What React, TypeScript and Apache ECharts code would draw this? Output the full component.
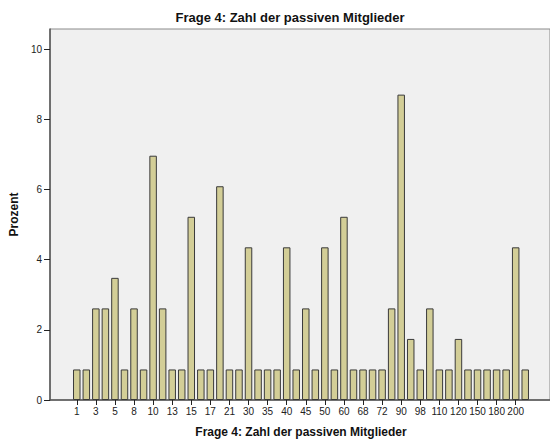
import React, { useEffect, useRef } from "react";
import * as echarts from "echarts";

const categories = [
  "1", "2", "3", "4", "5", "6", "8", "9", "10", "12", "13", "14", "15", "16", "17", "20",
  "21", "25", "30", "32", "35", "37", "40", "42", "45", "48", "50", "55", "60", "65", "68", "70",
  "72", "80", "90", "95", "98", "100", "110", "115", "120", "130", "150", "160", "180", "190", "200", "250",
];

const percentValues = [
  0.87, 0.87, 2.61, 2.61, 3.48, 0.87, 2.61, 0.87, 6.96, 2.61, 0.87, 0.87, 5.22, 0.87, 0.87, 6.09,
  0.87, 0.87, 4.35, 0.87, 0.87, 0.87, 4.35, 0.87, 2.61, 0.87, 4.35, 0.87, 5.22, 0.87, 0.87, 0.87,
  0.87, 2.61, 8.70, 1.74, 0.87, 2.61, 0.87, 0.87, 1.74, 0.87, 0.87, 0.87, 0.87, 0.87, 4.35, 0.87,
];

const yTickValues = [0, 2, 4, 6, 8, 10];

const titleText = "Frage 4: Zahl der passiven Mitglieder";
const xAxisName = "Frage 4: Zahl der passiven Mitglieder";
const yAxisName = "Prozent";

const FONT = "'Liberation Sans', Arial, sans-serif";
const Y_MAX = 10.57;

export default function App() {
  const ref = useRef<HTMLDivElement>(null);

  useEffect(() => {
    if (!ref.current) return;
    const chart = echarts.init(ref.current, undefined, { renderer: "svg" });
    chart.setOption({
      animation: false,
      backgroundColor: "#ffffff",
      title: {
        text: titleText,
        left: 285,
        top: 6,
        textAlign: "center",
        textStyle: { fontFamily: FONT, fontSize: 13, fontWeight: "bold", color: "#111" },
      },
      grid: [
        {
          left: 47,
          right: -2,
          top: 29,
          bottom: 46,
          show: true,
          backgroundColor: "#f0f0f0",
          borderColor: "#8a8a8a",
          borderWidth: 1,
        },
        { left: 72, right: 20, top: 29, bottom: 46 },
      ],
      xAxis: [
        {
          gridIndex: 0,
          type: "value",
          min: 0,
          max: 1,
          axisLine: { show: true, lineStyle: { color: "#555", width: 1.5 } },
          axisTick: { show: false },
          axisLabel: { show: false },
          splitLine: { show: false },
        },
        {
          gridIndex: 1,
          type: "category",
          data: categories,
          boundaryGap: true,
          name: xAxisName,
          nameLocation: "middle",
          nameGap: 26,
          nameTextStyle: { fontFamily: FONT, fontSize: 12, fontWeight: "bold", color: "#111" },
          axisLine: { show: false },
          axisTick: {
            show: true,
            interval: 1,
            alignWithLabel: true,
            length: 5,
            lineStyle: { color: "#222", width: 1 },
          },
          axisLabel: {
            interval: 1,
            fontFamily: FONT,
            fontSize: 10,
            color: "#222",
            margin: 6,
          },
        },
      ],
      yAxis: [
        {
          gridIndex: 0,
          type: "value",
          min: 0,
          max: Y_MAX,
          name: yAxisName,
          nameLocation: "middle",
          nameGap: 21,
          nameRotate: 90,
          nameTextStyle: { fontFamily: FONT, fontSize: 12, fontWeight: "bold", color: "#111" },
          axisLine: { show: true, lineStyle: { color: "#555", width: 1.5 } },
          axisTick: {
            show: true,
            length: 6,
            customValues: yTickValues,
            lineStyle: { color: "#222", width: 1 },
          },
          axisLabel: {
            customValues: yTickValues,
            fontFamily: FONT,
            fontSize: 10,
            color: "#222",
            margin: 8,
          },
          splitLine: { show: false },
        },
        {
          gridIndex: 1,
          type: "value",
          min: 0,
          max: Y_MAX,
          show: false,
          splitLine: { show: false },
        },
      ],
      series: [
        {
          type: "bar",
          xAxisIndex: 1,
          yAxisIndex: 1,
          data: percentValues,
          barWidth: 7.5,
          itemStyle: {
            color: "#d3ce97",
            borderColor: "#3a3a3a",
            borderWidth: 1,
          },
        },
      ],
    });
    return () => chart.dispose();
  }, []);

  return (
    <div
      ref={ref}
      style={{ position: "fixed", left: 0, top: 0, width: 550, height: 446 }}
    />
  );
}
